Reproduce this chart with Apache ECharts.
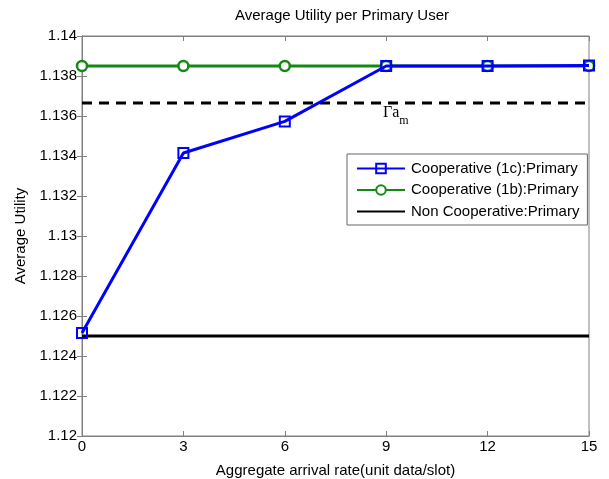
<!DOCTYPE html>
<html><head><meta charset="utf-8">
<script src="https://cdn.jsdelivr.net/npm/echarts@6/dist/echarts.min.js"></script>
<style>html,body{margin:0;padding:0;background:#fff}#c{width:609px;height:479px}</style>
</head><body><div id="c"></div>
<script>
const xValues = [0, 3, 6, 9, 12, 15];
const coop1c = [1.12515, 1.13415, 1.13573, 1.1385, 1.1385, 1.13852];
const coop1b = [1.1385, 1.1385, 1.1385, 1.1385, 1.1385, 1.1385];
const nonCoop = [1.125, 1.125, 1.125, 1.125, 1.125, 1.125];
const gammaAm = [1.13665, 1.13665];
const gammaX = [0, 15];

const font = 'Liberation Sans';
const fs = 15;
const chart = echarts.init(document.getElementById('c'), null, {renderer: 'canvas'});
const pair = (xs, ys) => xs.map((x, i) => [x, ys[i]]);
const axisCol = '#808080';
chart.setOption({
  animation: false,
  backgroundColor: '#fff',
  title: {text: 'Average Utility per Primary User', left: 337, top: 3, textAlign: 'center',
    textStyle: {fontFamily: font, fontSize: fs, fontWeight: 'normal', color: '#000'}},
  grid: {left: 82, right: 20, top: 36, bottom: 43, show: true, borderColor: axisCol, borderWidth: 1,
    outerBoundsMode: 'none', containLabel: false},
  legend: {
    left: 347, top: 154, orient: 'vertical',
    backgroundColor: '#fff', borderColor: '#666', borderWidth: 1,
    padding: [7, 8, 6, 9], itemGap: 6.5, itemWidth: 48, itemHeight: 12,
    textStyle: {fontFamily: font, fontSize: fs, color: '#000', padding: [0, 0, 0, 1]},
    data: ['Cooperative (1c):Primary', 'Cooperative (1b):Primary',
      {name: 'Non Cooperative:Primary', itemStyle: {opacity: 0}}]
  },
  xAxis: [{
    type: 'value', min: 0, max: 15, interval: 3,
    name: 'Aggregate arrival rate(unit data/slot)', nameLocation: 'middle', nameGap: 27,
    nameTextStyle: {fontFamily: font, fontSize: fs, color: '#000'},
    axisLine: {show: true, lineStyle: {color: axisCol}},
    axisTick: {inside: true, length: 5, lineStyle: {color: axisCol}},
    axisLabel: {fontFamily: font, fontSize: fs, color: '#000', margin: 3},
    splitLine: {show: false}
  }, {
    type: 'value', position: 'top', min: 0, max: 15, interval: 3,
    axisLine: {show: true, lineStyle: {color: axisCol}},
    axisTick: {inside: true, length: 5, lineStyle: {color: axisCol}},
    axisLabel: {show: false}, splitLine: {show: false}
  }],
  yAxis: [{
    type: 'value', min: 1.12, max: 1.14, interval: 0.002,
    name: 'Average Utility', nameLocation: 'middle', nameGap: 49,
    nameTextStyle: {fontFamily: font, fontSize: fs, color: '#000'},
    axisLine: {show: true, lineStyle: {color: axisCol}},
    axisTick: {inside: true, length: 5, lineStyle: {color: axisCol}},
    axisLabel: {fontFamily: font, fontSize: fs, color: '#000', margin: 5,
      formatter: v => String(parseFloat(v.toFixed(3)))},
    splitLine: {show: false}
  }, {
    type: 'value', position: 'right', min: 1.12, max: 1.14, interval: 0.002,
    axisLine: {show: true, lineStyle: {color: axisCol}},
    axisTick: {inside: true, length: 5, lineStyle: {color: axisCol}},
    axisLabel: {show: false}, splitLine: {show: false}
  }],
  series: [
    {name: 'Γa', type: 'line', data: pair(gammaX, gammaAm), symbol: 'none', silent: true,
      lineStyle: {color: '#000', width: 3, type: [10, 7]}, z: 1},
    {name: 'Non Cooperative:Primary', type: 'line', data: pair(xValues, nonCoop), symbol: 'none',
      lineStyle: {color: '#000', width: 3}, itemStyle: {color: '#000'}, z: 2},
    {name: 'Cooperative (1b):Primary', type: 'line', data: pair(xValues, coop1b),
      symbol: 'circle', symbolSize: 10, showSymbol: true,
      lineStyle: {color: '#138a13', width: 3},
      itemStyle: {color: '#fff', borderColor: '#138a13', borderWidth: 2.5}, z: 3},
    {name: 'Cooperative (1c):Primary', type: 'line', data: pair(xValues, coop1c),
      symbol: 'rect', symbolSize: 10, showSymbol: true,
      lineStyle: {color: '#0000ff', width: 3},
      itemStyle: {color: 'rgba(255,255,255,0)', borderColor: '#0000ff', borderWidth: 2}, z: 4}
  ],
  graphic: [{
    type: 'text', left: 383, top: 105,
    style: {
      rich: {
        g: {fontFamily: 'Liberation Serif', fontSize: 16, fill: '#000'},
        s: {fontFamily: 'Liberation Serif', fontSize: 12, fill: '#000', padding: [16, 0, 0, 0]}
      },
      text: '{g|Γa}{s|m}'
    }
  }]
});
</script></body></html>
